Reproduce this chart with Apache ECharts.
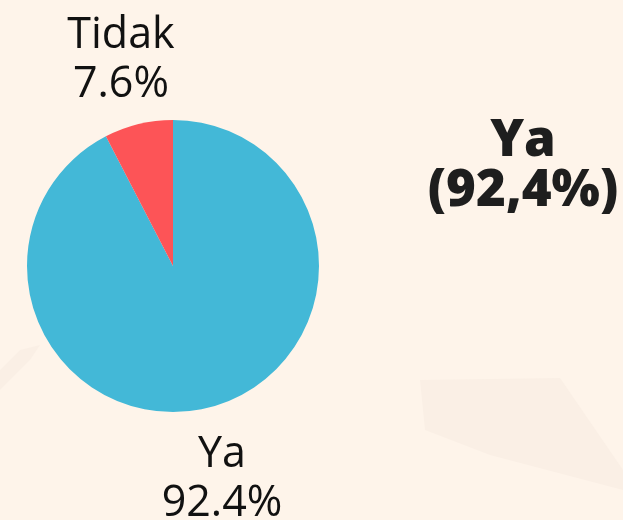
<!DOCTYPE html>
<html><head><meta charset="utf-8">
<script src="https://cdn.jsdelivr.net/npm/echarts@6/dist/echarts.min.js"></script>
<style>html,body{margin:0;padding:0;background:#FEF4EA;}#c{width:623px;height:520px;}</style>
</head><body><div id="c"></div>
<script>
const categories = ["Ya", "Tidak"];
const values = [92.4, 7.6];
const colors = ["#43B8D7", "#FD5457"];
const titleText = "Ya\n(92,4%)";

const chart = echarts.init(document.getElementById('c'), null, {renderer: 'canvas'});
const labelPos = [[222, 479], [121, 60]];
chart.setOption({
  backgroundColor: '#FEF4EA',
  animation: false,
  title: {
    text: titleText,
    left: 518, top: 111,
    textAlign: 'center',
    textStyle: {fontFamily: 'Open Sans', fontWeight: 800, fontSize: 51, lineHeight: 50, color: '#1E1E1E'}
  },
  graphic: [
    {type: 'polygon', silent: true, z: -1, shape: {points: [[420, 380], [560, 378], [623, 470], [623, 490], [490, 455], [425, 430]]}, style: {fill: '#FAEFE5'}},
    {type: 'polygon', silent: true, z: -1, shape: {points: [[0, 370], [20, 350], [40, 345], [30, 360], [0, 390]]}, style: {fill: '#FAEFE5'}}
  ],
  series: [{
    type: 'pie',
    center: [173, 266],
    radius: [0, 146],
    startAngle: 90,
    clockwise: true,
    data: categories.map((c, i) => ({name: c, value: values[i], itemStyle: {color: colors[i]}})),
    label: {
      show: true,
      position: 'outside',
      formatter: p => p.name + '\n' + p.value.toFixed(1) + '%',
      fontFamily: 'Open Sans',
      fontSize: 43,
      lineHeight: 49,
      color: '#111',
      align: 'center',
      overflow: 'none',
      width: 300
    },
    labelLine: {show: false},
    labelLayout: function (params) {
      const p = labelPos[params.dataIndex];
      return {x: p[0], y: p[1], align: 'center', verticalAlign: 'middle'};
    },
    emphasis: {disabled: true}
  }]
});
</script></body></html>
